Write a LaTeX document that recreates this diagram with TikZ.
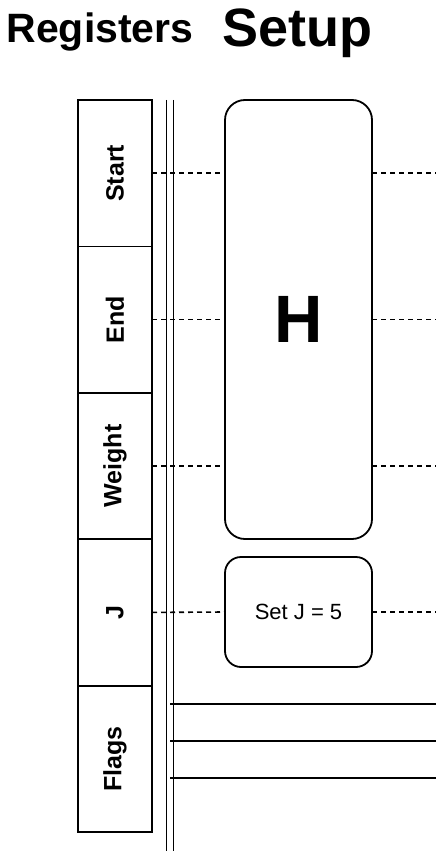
\documentclass[tikz,border=0pt]{standalone}
\usepackage{fontspec}
\setmainfont{Liberation Sans}
\begin{document}
\begin{tikzpicture}[x=1pt,y=-1pt,line width=1.8pt,
  reg/.style={draw, minimum width=74pt, minimum height=146.4pt, inner sep=0pt, outer sep=0pt,
    font=\bfseries\fontsize{25}{25}\selectfont},
  opbox/.style={draw, rounded corners=20pt, minimum width=147pt, inner sep=0pt, outer sep=0pt},
  dashline/.style={line width=1.6pt, dash pattern=on 5pt off 4pt},
  title/.style={anchor=base, font=\bfseries\fontsize{#1}{#1}\selectfont}
]
\useasboundingbox (0,0) rectangle (436,853);

\node[title=41] (tReg) at (100,43) {Registers};
\node[title=54] (tSetup) at (297,47) {Setup};

\node[reg] (rStart)  at (115,173.2) {\rotatebox{90}{Start}};
\node[reg] (rEnd)    at (115,319.6) {\rotatebox{90}{End}};
\node[reg] (rWeight) at (115,466.0) {\rotatebox{90}{Weight}};
\node[reg] (rJ)      at (115,612.4) {\rotatebox{90}{J}};
\node[reg] (rFlags)  at (115,758.8) {\rotatebox{90}{Flags}};

\coordinate (vaTop) at (166.5,100);
\coordinate (vaBot) at (166.5,851);
\coordinate (vbTop) at (173.5,100);
\coordinate (vbBot) at (173.5,851);
\draw (vaTop) -- (vaBot);
\draw (vbTop) -- (vbBot);

\node[opbox, minimum height=439pt, font=\bfseries\fontsize{67}{67}\selectfont] (H) at (298.5,319.5) {H};
\node[opbox, rounded corners=16pt, minimum height=110pt, font=\fontsize{22}{22}\selectfont] (SJ) at (298.5,612) {Set J = 5};

\coordinate (right) at (436,0);

\draw[dashline] (rStart.east) -- (rStart.east -| H.west);
\draw[dashline] (rStart.east -| H.east) -- (rStart.east -| right);
\draw[dashline] (rEnd.east) -- (rEnd.east -| H.west);
\draw[dashline] (rEnd.east -| H.east) -- (rEnd.east -| right);
\draw[dashline] (rWeight.east) -- (rWeight.east -| H.west);
\draw[dashline] (rWeight.east -| H.east) -- (rWeight.east -| right);
\draw[dashline] (rJ.east) -- (SJ.west);
\draw[dashline] (SJ.east) -- (SJ.east -| right);

\coordinate (f1) at (170,704);
\coordinate (f2) at (170,741);
\coordinate (f3) at (170,778);
\draw (f1) -- (f1 -| right);
\draw (f2) -- (f2 -| right);
\draw (f3) -- (f3 -| right);
\end{tikzpicture}
\end{document}
